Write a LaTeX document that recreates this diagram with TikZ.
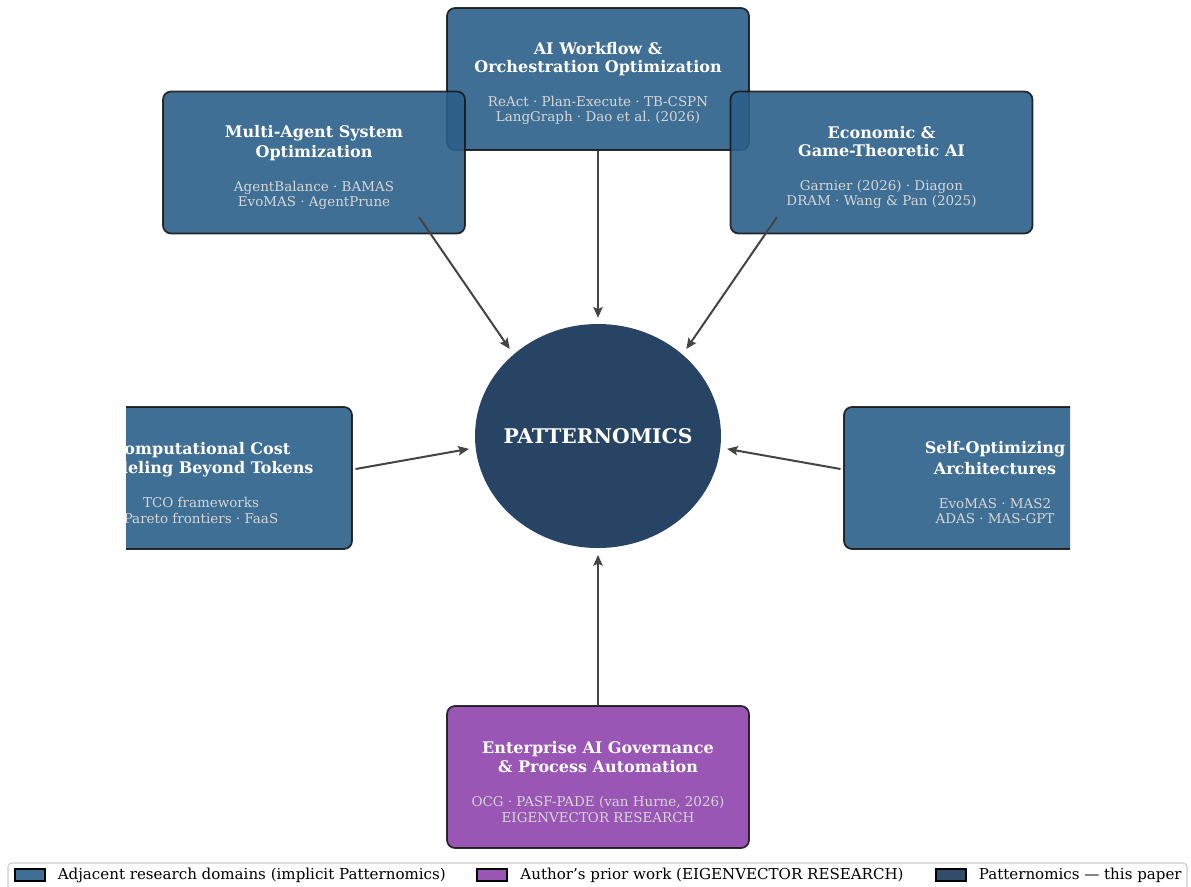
\documentclass[tikz,border=0pt]{standalone}
\usepackage{fontspec}
\setmainfont{DejaVu Serif}
\usepackage{xcolor}
\usetikzlibrary{arrows.meta}
\usetikzlibrary{shapes.geometric}
\usetikzlibrary{positioning}
\definecolor{domainblue}{HTML}{2B5F8A}
\definecolor{priorpurple}{HTML}{8E44AD}
\definecolor{paperblue}{HTML}{1B3A5C}
\definecolor{flowgray}{HTML}{444444}
\def\boxw{226.5pt}
\def\boxh{106.5pt}
% title and reference lines inside the boxes
\newcommand{\bt}{\bfseries\fontsize{12}{11.3}\selectfont}
\newcommand{\bto}{\bt\rule{0pt}{16pt}}
\newcommand{\bs}{\fontsize{10.1}{11.3}\selectfont\color{white!84!black}}
\tikzset{
  domainbox/.style={rectangle, rounded corners=6pt, draw=black!90, line width=1.3pt,
    fill=domainblue, fill opacity=0.9, draw opacity=0.9, text opacity=1,
    text=white, align=center, inner sep=0pt, font=\fontsize{10.1}{11.3}\selectfont,
    minimum width=\boxw, minimum height=\boxh},
  priorbox/.style={domainbox, fill=priorpurple},
  corebox/.style={ellipse, fill=paperblue, fill opacity=0.95, text opacity=1,
    text=white, inner sep=0pt, minimum width=184.5pt, minimum height=168pt,
    font=\bfseries\fontsize{15.2}{17}\selectfont},
  flow/.style={draw=flowgray, line width=1.5pt, -{Stealth[length=8pt,width=7pt,inset=1.5pt]}},
  legpatch/.style={rectangle, draw=black, line width=0.8pt, fill opacity=0.9,
    minimum width=22.5pt, minimum height=9pt, inner sep=0pt},
  legtext/.style={font=\fontsize{11.3}{13}\selectfont, inner sep=0pt, anchor=west}
}
\begin{document}
\begin{tikzpicture}[x=0.75pt, y=-0.75pt]
  \useasboundingbox (0,0) rectangle (1191,886);
  \begin{scope}
    \clip (126,0) rectangle (1070,860);
    \node[domainbox] (wf) at (598,79) {\bto AI Workflow \&\\[2.3pt]\bt Orchestration Optimization\\[14.2pt]
      \bs ReAct · Plan-Execute · TB-CSPN\\\bs LangGraph · Dao et al.\ (2026)};
    \node[domainbox] (mas) at (314,162.5) {\bto Multi-Agent System\\[2.3pt]\bt Optimization\\[14.2pt]
      \bs AgentBalance · BAMAS\\\bs EvoMAS · AgentPrune};
    \node[domainbox] (econ) at (881.5,162.5) {\bto Economic \&\\[2.3pt]\bt Game-Theoretic AI\\[14.2pt]
      \bs Garnier (2026) · Diagon\\\bs DRAM · Wang \& Pan (2025)};
    \node[domainbox] (cost) at (201,478) {\bto Computational Cost\\[2.3pt]\bt Modeling Beyond Tokens\\[14.2pt]
      \bs TCO frameworks\\\bs Pareto frontiers · FaaS};
    \node[domainbox] (self) at (995,478) {\bto Self-Optimizing\\[2.3pt]\bt Architectures\\[14.2pt]
      \bs EvoMAS · MAS2\\\bs ADAS · MAS-GPT};
    \node[priorbox] (gov) at (598,777) {\bto Enterprise AI Governance\\[2.3pt]\bt \& Process Automation\\[14.2pt]
      \bs OCG · PASF-PADE (van Hurne, 2026)\\\bs EIGENVECTOR RESEARCH};
    \node[corebox] (pat) at (598,436) {\makebox[0pt]{PATTERNOMICS}};
    % arrow starts
    \coordinate (mas-out) at (419,217);
    \coordinate (econ-out) at (777,217);
    \draw[flow] (wf.south) -- ([yshift=4.5pt]pat.north);
    \draw[flow] (mas-out) -- ([shift={(-4pt,3pt)}]pat.135);
    \draw[flow] (econ-out) -- ([shift={(4pt,3pt)}]pat.45);
    \draw[flow] ([shift={(2pt,6.75pt)}]cost.east) -- ([xshift=-5pt]pat.186);
    \draw[flow] ([shift={(-2pt,6.75pt)}]self.west) -- ([xshift=5pt]pat.354);
    \draw[flow] (gov.north) -- ([yshift=-5pt]pat.south);
  \end{scope}
  % legend
  \draw[rounded corners=3pt, draw=black!20, fill=white, line width=0.8pt] (8,863) rectangle (1187,892);
  \node[legpatch, fill=domainblue] (lg1) at (30,875) {};
  \node[legtext, right=9pt of lg1] (lt1) {Adjacent research domains (implicit Patternomics)};
  \node[legpatch, fill=priorpurple] (lg2) at (492,875) {};
  \node[legtext, right=9.5pt of lg2] (lt2) {Author's prior work (EIGENVECTOR RESEARCH)};
  \node[legpatch, fill=paperblue] (lg3) at (951,875) {};
  \node[legtext, right=9pt of lg3] (lt3) {Patternomics — this paper};
\end{tikzpicture}
\end{document}
